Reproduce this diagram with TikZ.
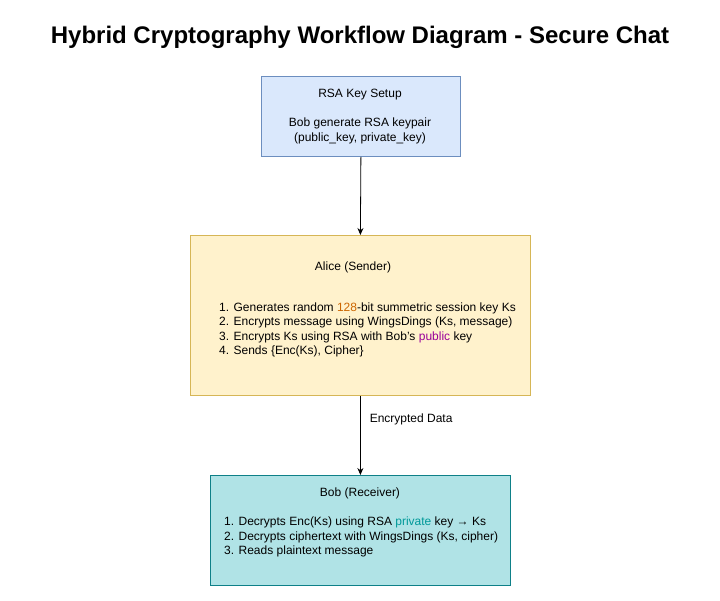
\documentclass[tikz,border=0pt]{standalone}
\usepackage{fontspec}
\setmainfont{Liberation Sans}
\usetikzlibrary{arrows.meta}
\definecolor{bluefill}{HTML}{DAE8FC}
\definecolor{bluedraw}{HTML}{6C8EBF}
\definecolor{yelfill}{HTML}{FFF2CC}
\definecolor{yeldraw}{HTML}{D6B656}
\definecolor{tealfill}{HTML}{B0E3E6}
\definecolor{tealdraw}{HTML}{0E8088}
\definecolor{orangetxt}{HTML}{CC6600}
\definecolor{purpletxt}{HTML}{990099}
\definecolor{tealtxt}{HTML}{009999}
\tikzset{
  boxstyle/.style={draw, line width=0.8pt, inner sep=0pt, anchor=north west},
  txt/.style={font=\fontsize{12}{14.5}\selectfont, inner sep=0pt, text=black},
  conn/.style={draw=black, line width=0.8pt, -{Stealth[length=7pt,width=6pt]}},
}
\begin{document}
\begin{tikzpicture}[x=1pt,y=-1pt]
\useasboundingbox[fill=white] (0,0) rectangle (720,601);
\node[font=\fontsize{24}{28}\selectfont\bfseries, inner sep=0pt] (title) at (360,37) {Hybrid Cryptography Workflow Diagram - Secure Chat};

\node[boxstyle, fill=bluefill, draw=bluedraw, minimum width=199pt, minimum height=80pt] (rsa) at (261,76) {};
\node[txt, align=center] (rsatitle) at (360,95) {RSA Key Setup};
\node[txt, align=center] (rsabody) at (360,131) {Bob generate RSA keypair\\(public\_key, private\_key)};

\node[boxstyle, fill=yelfill, draw=yeldraw, minimum width=340pt, minimum height=160pt] (alice) at (190,235) {};
\node[txt] (alicetitle) at (353,267) {Alice (Sender)};
\node[txt, anchor=west, align=left] (alicebody) at (219,330) {1. Generates random \textcolor{orangetxt}{128}-bit summetric session key Ks\\
2. Encrypts message using WingsDings (Ks, message)\\
3. Encrypts Ks using RSA with Bob's \textcolor{purpletxt}{public} key\\
4. Sends \{Enc(Ks), Cipher\}};

\node[boxstyle, fill=tealfill, draw=tealdraw, minimum width=300pt, minimum height=110pt] (bob) at (210,475) {};
\node[txt] (bobtitle) at (360,493) {Bob (Receiver)};
\node[txt, anchor=west, align=left] (bobbody) at (224,537) {1. Decrypts Enc(Ks) using RSA \textcolor{tealtxt}{private} key → Ks\\
2. Decrypts ciphertext with WingsDings (Ks, cipher)\\
3. Reads plaintext message};

\draw[conn] (rsa.south) -- (alice.north);
\draw[conn] (alice.south) -- node[txt, right=9pt, pos=0.3] (lbl) {Encrypted Data} (bob.north);
\end{tikzpicture}
\end{document}
